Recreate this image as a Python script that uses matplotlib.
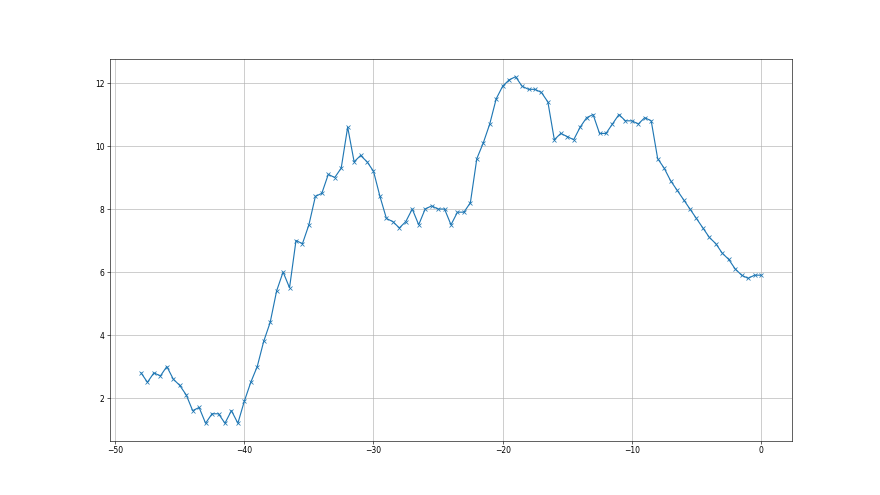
import matplotlib
matplotlib.use("Agg")
import matplotlib.pyplot as plt
import numpy as np

x_start = -48.0
x_step = 0.5
values = [
    2.8, 2.5, 2.8, 2.7, 3.0, 2.6, 2.4, 2.1, 1.6, 1.7,
    1.2, 1.5, 1.5, 1.2, 1.6, 1.2, 1.9, 2.5, 3.0, 3.8,
    4.4, 5.4, 6.0, 5.5, 7.0, 6.9, 7.5, 8.4, 8.5, 9.1,
    9.0, 9.3, 10.6, 9.5, 9.7, 9.5, 9.2, 8.4, 7.7, 7.6,
    7.4, 7.6, 8.0, 7.5, 8.0, 8.1, 8.0, 8.0, 7.5, 7.9,
    7.9, 8.2, 9.6, 10.1, 10.7, 11.5, 11.9, 12.1, 12.2, 11.9,
    11.8, 11.8, 11.7, 11.4, 10.2, 10.4, 10.3, 10.2, 10.6, 10.9,
    11.0, 10.4, 10.4, 10.7, 11.0, 10.8, 10.8, 10.7, 10.9, 10.8,
    9.6, 9.3, 8.9, 8.6, 8.3, 8.0, 7.7, 7.4, 7.1, 6.9,
    6.6, 6.4, 6.1, 5.9, 5.8, 5.9, 5.9,
]
x_values = x_start + x_step * np.arange(len(values))

fig = plt.figure(figsize=(16, 9), dpi=55)
ax = fig.add_subplot(111)
ax.plot(x_values, values, marker="x", color="#1f77b4")
ax.grid(True)
fig.savefig("out.png", dpi=55)
